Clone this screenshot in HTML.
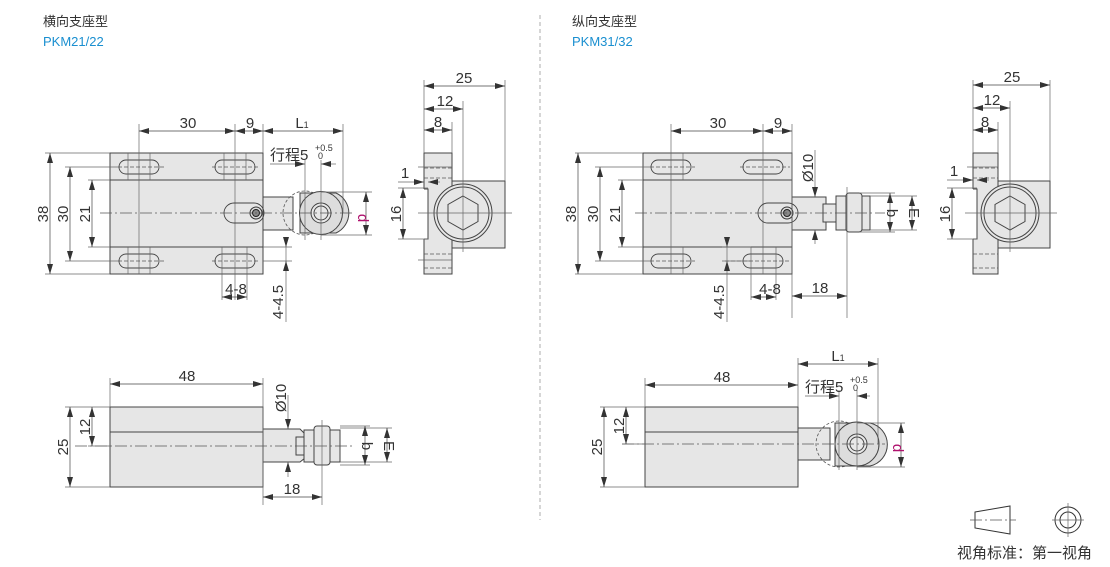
<!DOCTYPE html>
<html><head><meta charset="utf-8"><style>
html,body{margin:0;padding:0;background:#fff;}
svg{display:block;}
text{font-family:"Liberation Sans","Noto Sans CJK SC",sans-serif;fill:#333;}
.b{fill:#e6e6e6;stroke:#444;stroke-width:1;}
.l{stroke:#444;stroke-width:1;fill:none;}
.t{stroke:#666;stroke-width:0.7;fill:none;}
.c{stroke:#555;stroke-width:0.8;fill:none;stroke-dasharray:12 3 2 3;}
.h{stroke:#555;stroke-width:0.8;fill:none;stroke-dasharray:4 2;}
.d{stroke:#444;stroke-width:0.7;fill:none;marker-start:url(#a);marker-end:url(#a);}
.s{font-size:15px;}
</style></head><body>
<svg width="1110" height="567" viewBox="0 0 1110 567" xmlns="http://www.w3.org/2000/svg">
<defs>
<marker id="a" viewBox="0 0 10 6" refX="10" refY="3" markerWidth="10" markerHeight="6" orient="auto-start-reverse" markerUnits="userSpaceOnUse"><path d="M0,0 L10,3 L0,6 z" fill="#333"/></marker>
<g id="slot"><rect x="-20" y="-7" width="40" height="14" rx="7" ry="7" fill="none" stroke="#444" stroke-width="0.9"/></g>
</defs>

<text x="43" y="26" font-size="13">横向支座型</text>
<text x="43" y="46" font-size="13" style="fill:#1a8fd0">PKM21/22</text>
<text x="572" y="26" font-size="13">纵向支座型</text>
<text x="572" y="46" font-size="13" style="fill:#1a8fd0">PKM31/32</text>
<line x1="540" y1="15" x2="540" y2="520" stroke="#999" stroke-width="0.8" stroke-dasharray="4 3"/>

<!-- ===== LEFT TOP VIEW ===== -->
<rect class="b" x="110" y="153" width="153" height="121"/>
<line class="l" x1="110" y1="180" x2="263" y2="180"/>
<line class="l" x1="110" y1="247" x2="263" y2="247"/>
<use href="#slot" x="139" y="167"/><use href="#slot" x="235" y="167"/>
<use href="#slot" x="139" y="261"/><use href="#slot" x="235" y="261"/>
<line class="t" x1="139" y1="124" x2="139" y2="274"/><line class="t" x1="235" y1="124" x2="235" y2="300"/>
<line class="t" x1="128" y1="153" x2="128" y2="180"/><line class="t" x1="150" y1="153" x2="150" y2="180"/>
<line class="t" x1="128" y1="247" x2="128" y2="274"/><line class="t" x1="150" y1="247" x2="150" y2="274"/>
<line class="t" x1="224" y1="153" x2="224" y2="180"/><line class="t" x1="246" y1="153" x2="246" y2="180"/>
<line class="t" x1="222" y1="247" x2="222" y2="300"/><line class="t" x1="247" y1="247" x2="247" y2="300"/>
<line class="h" x1="118" y1="167" x2="165" y2="167"/><line class="h" x1="212" y1="167" x2="258" y2="167"/>
<line class="h" x1="118" y1="261" x2="165" y2="261"/><line class="h" x1="212" y1="261" x2="258" y2="261"/>
<rect class="b" x="263" y="197" width="30" height="33"/>
<rect x="224" y="203" width="40" height="20" rx="10" fill="none" stroke="#444" stroke-width="0.9"/>
<circle cx="256" cy="213" r="6" fill="#ddd" stroke="#333"/><circle cx="256" cy="213" r="3.5" fill="#888" stroke="#222"/>
<circle cx="305" cy="213" r="22" fill="none" stroke="#555" stroke-width="0.8" stroke-dasharray="3 2"/>
<path d="M300,193 L336,193 A22,22 0 0 1 336,233 L300,233 Z" fill="#ddd" stroke="#444"/>
<circle cx="321" cy="213" r="21.5" fill="#ddd" stroke="#444"/>
<circle cx="321" cy="213" r="10" fill="#e8e8e8" stroke="#444"/><circle cx="321" cy="213" r="7" fill="none" stroke="#444"/>
<line class="c" x1="100" y1="213" x2="352" y2="213"/>
<line class="t" x1="305" y1="160" x2="305" y2="240"/><line class="t" x1="321" y1="160" x2="321" y2="240"/>
<line class="t" x1="321" y1="192" x2="372" y2="192"/><line class="t" x1="321" y1="235" x2="372" y2="235"/>
<line class="t" x1="343" y1="124" x2="343" y2="213"/><line class="t" x1="263" y1="124" x2="263" y2="153"/>
<line class="t" x1="45" y1="153" x2="110" y2="153"/><line class="t" x1="45" y1="274" x2="110" y2="274"/>
<line class="t" x1="65" y1="167" x2="120" y2="167"/><line class="t" x1="65" y1="261" x2="120" y2="261"/>
<line class="t" x1="88" y1="180" x2="110" y2="180"/><line class="t" x1="88" y1="247" x2="110" y2="247"/>
<line class="d" x1="50" y1="153" x2="50" y2="274"/><text class="s" transform="translate(48,214) rotate(-90)" text-anchor="middle">38</text>
<line class="d" x1="70" y1="167" x2="70" y2="261"/><text class="s" transform="translate(68,214) rotate(-90)" text-anchor="middle">30</text>
<line class="d" x1="92" y1="180" x2="92" y2="247"/><text class="s" transform="translate(90,214) rotate(-90)" text-anchor="middle">21</text>
<line class="d" x1="139" y1="131" x2="235" y2="131"/><text class="s" x="188" y="128" text-anchor="middle">30</text>
<line class="d" x1="235" y1="131" x2="263" y2="131"/><text class="s" x="250" y="128" text-anchor="middle">9</text>
<line class="d" x1="263" y1="131" x2="343" y2="131"/><text class="s" x="302" y="128" text-anchor="middle">L<tspan font-size="9">1</tspan></text>
<text class="s" x="270" y="160">行程5</text><text x="315" y="151" font-size="9">+0.5</text><text x="318" y="159" font-size="9">0</text>
<line class="t" x1="270" y1="164" x2="305" y2="164" marker-end="url(#a)"/><line class="t" x1="336" y1="164" x2="321" y2="164" marker-end="url(#a)"/>
<line class="d" x1="366" y1="192" x2="366" y2="235"/><text x="362" y="214" font-size="15" transform="rotate(90 358 214)" text-anchor="middle" style="fill:#b0126e">d</text>
<line class="d" x1="222" y1="297" x2="247" y2="297"/><text class="s" x="236" y="294" text-anchor="middle">4-8</text>
<line class="t" x1="286" y1="240" x2="286" y2="322"/><line class="t" x1="286" y1="240" x2="286" y2="247" marker-end="url(#a)"/><line class="t" x1="286" y1="270" x2="286" y2="261" marker-end="url(#a)"/>
<line class="t" x1="263" y1="247" x2="292" y2="247"/><line class="t" x1="263" y1="261" x2="292" y2="261"/>
<text class="s" transform="translate(283,302) rotate(-90)" text-anchor="middle">4-4.5</text>

<!-- left side view -->
<rect class="b" x="428" y="181" width="77" height="67"/>
<rect class="b" x="424" y="153" width="28" height="121"/>
<rect x="425" y="182" width="26" height="65" fill="#e6e6e6"/>
<rect x="423.5" y="189" width="4.5" height="50" fill="#fff"/>
<path class="l" d="M424,189 L428,189 L428,239 L424,239"/>
<circle cx="463" cy="213" r="29" fill="#e6e6e6" stroke="#444"/><circle cx="463" cy="213" r="26" fill="none" stroke="#444"/>
<polygon points="463,196 478,204.5 478,221.5 463,230 448,221.5 448,204.5" fill="none" stroke="#444"/>
<line class="t" x1="418" y1="213" x2="512" y2="213"/><line class="t" x1="463" y1="101" x2="463" y2="252"/>
<line class="h" x1="424" y1="168" x2="452" y2="168"/><line class="h" x1="424" y1="178" x2="452" y2="178"/>
<line class="h" x1="424" y1="254" x2="452" y2="254"/><line class="h" x1="424" y1="268" x2="452" y2="268"/>
<line class="t" x1="418" y1="167" x2="452" y2="167"/><line class="t" x1="418" y1="260" x2="452" y2="260"/>
<line class="t" x1="424" y1="80" x2="424" y2="153"/><line class="t" x1="505" y1="80" x2="505" y2="181"/><line class="t" x1="452" y1="122" x2="452" y2="153"/>
<line class="d" x1="424" y1="86" x2="505" y2="86"/><text class="s" x="464" y="83" text-anchor="middle">25</text>
<line class="d" x1="424" y1="109" x2="463" y2="109"/><text class="s" x="445" y="106" text-anchor="middle">12</text>
<line class="d" x1="424" y1="130" x2="452" y2="130"/><text class="s" x="438" y="127" text-anchor="middle">8</text>
<line class="t" x1="398" y1="182" x2="424" y2="182" marker-end="url(#a)"/><line class="t" x1="440" y1="182" x2="428" y2="182" marker-end="url(#a)"/><text class="s" x="405" y="178" text-anchor="middle">1</text>
<line class="t" x1="398" y1="188" x2="428" y2="188"/><line class="t" x1="398" y1="239" x2="428" y2="239"/>
<line class="d" x1="403" y1="188" x2="403" y2="239"/><text class="s" transform="translate(401,214) rotate(-90)" text-anchor="middle">16</text>

<!-- left bottom view -->
<rect class="b" x="110" y="407" width="153" height="80"/>
<line class="l" x1="110" y1="432" x2="263" y2="432"/>
<path d="M263,429 L300,429 L305,434 L305,458 L300,462 L263,462 Z" class="b"/>
<rect class="b" x="296" y="437" width="20" height="18"/>
<rect class="b" x="304" y="430" width="36" height="32"/>
<rect class="b" x="314" y="426" width="16" height="39" rx="3"/>
<line class="c" x1="75" y1="446" x2="355" y2="446"/>
<line class="t" x1="322" y1="420" x2="322" y2="505"/>
<line class="t" x1="110" y1="378" x2="110" y2="407"/><line class="t" x1="263" y1="378" x2="263" y2="505"/>
<line class="d" x1="110" y1="384" x2="263" y2="384"/><text class="s" x="187" y="381" text-anchor="middle">48</text>
<line class="t" x1="288" y1="395" x2="288" y2="429" marker-end="url(#a)"/><line class="t" x1="288" y1="477" x2="288" y2="462" marker-end="url(#a)"/>
<text class="s" transform="translate(286,398) rotate(-90)" text-anchor="middle">Ø10</text>
<line class="t" x1="65" y1="407" x2="110" y2="407"/><line class="t" x1="65" y1="487" x2="110" y2="487"/><line class="t" x1="88" y1="446" x2="110" y2="446"/>
<line class="d" x1="70" y1="407" x2="70" y2="487"/><text class="s" transform="translate(68,447) rotate(-90)" text-anchor="middle">25</text>
<line class="d" x1="92" y1="407" x2="92" y2="446"/><text class="s" transform="translate(90,427) rotate(-90)" text-anchor="middle">12</text>
<line class="d" x1="263" y1="497" x2="322" y2="497"/><text class="s" x="292" y="494" text-anchor="middle">18</text>
<line class="t" x1="340" y1="426" x2="370" y2="426"/><line class="t" x1="340" y1="465" x2="370" y2="465"/>
<line class="t" x1="340" y1="428" x2="392" y2="428"/><line class="t" x1="340" y1="462" x2="392" y2="462"/>
<line class="d" x1="365" y1="426" x2="365" y2="465"/><text class="s" transform="translate(362,446) rotate(90)" text-anchor="middle">b</text>
<line class="d" x1="387" y1="428" x2="387" y2="462"/><text class="s" transform="translate(384,446) rotate(90)" text-anchor="middle">E</text>

<!-- ===== RIGHT TOP VIEW ===== -->
<rect class="b" x="643" y="153" width="149" height="121"/>
<line class="l" x1="643" y1="180" x2="792" y2="180"/>
<line class="l" x1="643" y1="247" x2="792" y2="247"/>
<use href="#slot" x="671" y="167"/><use href="#slot" x="763" y="167"/>
<use href="#slot" x="671" y="261"/><use href="#slot" x="763" y="261"/>
<line class="t" x1="671" y1="124" x2="671" y2="274"/><line class="t" x1="763" y1="124" x2="763" y2="274"/>
<line class="t" x1="683" y1="153" x2="683" y2="180"/><line class="t" x1="683" y1="247" x2="683" y2="274"/>
<line class="t" x1="751" y1="247" x2="751" y2="300"/><line class="t" x1="776" y1="247" x2="776" y2="300"/>
<line class="h" x1="650" y1="167" x2="695" y2="167"/><line class="h" x1="740" y1="167" x2="790" y2="167"/>
<line class="h" x1="650" y1="261" x2="695" y2="261"/><line class="h" x1="725" y1="261" x2="790" y2="261"/>
<rect class="b" x="792" y="197" width="34" height="33"/>
<rect x="758" y="203" width="40" height="20" rx="10" fill="none" stroke="#444" stroke-width="0.9"/>
<circle cx="787" cy="213" r="6" fill="#ddd" stroke="#333"/><circle cx="787" cy="213" r="3.5" fill="#888" stroke="#222"/>
<rect class="b" x="823" y="204" width="20" height="18"/>
<rect class="b" x="836" y="196" width="34" height="34"/>
<rect class="b" x="846" y="193" width="16" height="39" rx="3"/>
<line class="c" x1="635" y1="213" x2="885" y2="213"/>
<line class="t" x1="847" y1="187" x2="847" y2="318"/>
<line class="t" x1="792" y1="124" x2="792" y2="318"/>
<line class="t" x1="575" y1="153" x2="643" y2="153"/><line class="t" x1="575" y1="274" x2="643" y2="274"/>
<line class="t" x1="595" y1="167" x2="650" y2="167"/><line class="t" x1="595" y1="261" x2="650" y2="261"/>
<line class="t" x1="618" y1="180" x2="643" y2="180"/><line class="t" x1="618" y1="247" x2="643" y2="247"/>
<line class="d" x1="578" y1="153" x2="578" y2="274"/><text class="s" transform="translate(576,214) rotate(-90)" text-anchor="middle">38</text>
<line class="d" x1="600" y1="167" x2="600" y2="261"/><text class="s" transform="translate(598,214) rotate(-90)" text-anchor="middle">30</text>
<line class="d" x1="622" y1="180" x2="622" y2="247"/><text class="s" transform="translate(620,214) rotate(-90)" text-anchor="middle">21</text>
<line class="d" x1="671" y1="131" x2="763" y2="131"/><text class="s" x="718" y="128" text-anchor="middle">30</text>
<line class="d" x1="763" y1="131" x2="792" y2="131"/><text class="s" x="778" y="128" text-anchor="middle">9</text>
<line class="t" x1="815" y1="150" x2="815" y2="197" marker-end="url(#a)"/><line class="t" x1="815" y1="244" x2="815" y2="230" marker-end="url(#a)"/>
<text class="s" transform="translate(813,168) rotate(-90)" text-anchor="middle">Ø10</text>
<line class="t" x1="860" y1="193" x2="895" y2="193"/><line class="t" x1="860" y1="232" x2="895" y2="232"/>
<line class="t" x1="870" y1="196" x2="917" y2="196"/><line class="t" x1="870" y1="230" x2="917" y2="230"/>
<line class="d" x1="890" y1="193" x2="890" y2="232"/><text class="s" transform="translate(887,213) rotate(90)" text-anchor="middle">b</text>
<line class="d" x1="912" y1="196" x2="912" y2="230"/><text class="s" transform="translate(909,213) rotate(90)" text-anchor="middle">E</text>
<line class="d" x1="751" y1="297" x2="776" y2="297"/><text class="s" x="770" y="294" text-anchor="middle">4-8</text>
<line class="d" x1="792" y1="296" x2="847" y2="296"/><text class="s" x="820" y="293" text-anchor="middle">18</text>
<line class="t" x1="727" y1="240" x2="727" y2="322"/><line class="t" x1="727" y1="240" x2="727" y2="247" marker-end="url(#a)"/><line class="t" x1="727" y1="270" x2="727" y2="261" marker-end="url(#a)"/>
<line class="t" x1="722" y1="247" x2="751" y2="247"/><line class="t" x1="722" y1="261" x2="751" y2="261"/>
<text class="s" transform="translate(724,302) rotate(-90)" text-anchor="middle">4-4.5</text>

<!-- right side view -->
<rect class="b" x="977" y="181" width="73" height="67"/>
<rect class="b" x="973" y="153" width="25" height="121"/>
<rect x="974" y="182" width="23" height="65" fill="#e6e6e6"/>
<rect x="972.5" y="189" width="4.5" height="50" fill="#fff"/>
<path class="l" d="M973,189 L977,189 L977,239 L973,239"/>
<circle cx="1010" cy="213" r="29" fill="#e6e6e6" stroke="#444"/><circle cx="1010" cy="213" r="26" fill="none" stroke="#444"/>
<polygon points="1010,196 1025,204.5 1025,221.5 1010,230 995,221.5 995,204.5" fill="none" stroke="#444"/>
<line class="t" x1="965" y1="213" x2="1057" y2="213"/><line class="t" x1="1010" y1="101" x2="1010" y2="252"/>
<line class="h" x1="973" y1="168" x2="998" y2="168"/><line class="h" x1="973" y1="178" x2="998" y2="178"/>
<line class="h" x1="973" y1="254" x2="998" y2="254"/><line class="h" x1="973" y1="268" x2="998" y2="268"/>
<line class="t" x1="967" y1="167" x2="998" y2="167"/>
<line class="t" x1="973" y1="80" x2="973" y2="153"/><line class="t" x1="1050" y1="80" x2="1050" y2="181"/><line class="t" x1="998" y1="122" x2="998" y2="153"/>
<line class="d" x1="973" y1="85" x2="1050" y2="85"/><text class="s" x="1012" y="82" text-anchor="middle">25</text>
<line class="d" x1="973" y1="108" x2="1010" y2="108"/><text class="s" x="992" y="105" text-anchor="middle">12</text>
<line class="d" x1="973" y1="130" x2="998" y2="130"/><text class="s" x="985" y="127" text-anchor="middle">8</text>
<line class="t" x1="947" y1="180" x2="973" y2="180" marker-end="url(#a)"/><line class="t" x1="989" y1="180" x2="977" y2="180" marker-end="url(#a)"/><text class="s" x="954" y="176" text-anchor="middle">1</text>
<line class="t" x1="947" y1="188" x2="977" y2="188"/><line class="t" x1="947" y1="239" x2="977" y2="239"/>
<line class="d" x1="952" y1="188" x2="952" y2="239"/><text class="s" transform="translate(950,214) rotate(-90)" text-anchor="middle">16</text>

<!-- right bottom view -->
<rect class="b" x="645" y="407" width="153" height="80"/>
<line class="l" x1="645" y1="432" x2="798" y2="432"/>
<rect class="b" x="798" y="428" width="32" height="32"/>
<circle cx="839" cy="444" r="23" fill="none" stroke="#555" stroke-width="0.8" stroke-dasharray="3 2"/>
<path d="M835,423 L870,423 A22,22 0 0 1 870,466 L835,466 Z" fill="#ddd" stroke="#444"/>
<circle cx="857" cy="444" r="22" fill="#ddd" stroke="#444"/>
<circle cx="857" cy="444" r="10" fill="#e8e8e8" stroke="#444"/><circle cx="857" cy="444" r="7" fill="none" stroke="#444"/>
<line class="c" x1="622" y1="444" x2="885" y2="444"/>
<line class="t" x1="839" y1="390" x2="839" y2="470"/><line class="t" x1="857" y1="390" x2="857" y2="470"/>
<line class="t" x1="857" y1="423" x2="905" y2="423"/><line class="t" x1="857" y1="467" x2="905" y2="467"/>
<line class="d" x1="901" y1="423" x2="901" y2="467"/><text x="896" y="445" font-size="15" transform="rotate(90 893 445)" text-anchor="middle" style="fill:#b0126e">d</text>
<line class="t" x1="645" y1="378" x2="645" y2="407"/><line class="t" x1="798" y1="358" x2="798" y2="407"/><line class="t" x1="878" y1="358" x2="878" y2="444"/>
<line class="d" x1="645" y1="385" x2="798" y2="385"/><text class="s" x="722" y="382" text-anchor="middle">48</text>
<line class="d" x1="798" y1="364" x2="878" y2="364"/><text class="s" x="838" y="361" text-anchor="middle">L<tspan font-size="9">1</tspan></text>
<text class="s" x="805" y="392">行程5</text><text x="850" y="383" font-size="9">+0.5</text><text x="853" y="391" font-size="9">0</text>
<line class="t" x1="805" y1="396" x2="839" y2="396" marker-end="url(#a)"/><line class="t" x1="870" y1="396" x2="857" y2="396" marker-end="url(#a)"/>
<line class="t" x1="600" y1="407" x2="645" y2="407"/><line class="t" x1="600" y1="487" x2="645" y2="487"/><line class="t" x1="622" y1="444" x2="645" y2="444"/>
<line class="d" x1="604" y1="407" x2="604" y2="487"/><text class="s" transform="translate(602,447) rotate(-90)" text-anchor="middle">25</text>
<line class="d" x1="626" y1="407" x2="626" y2="444"/><text class="s" transform="translate(624,426) rotate(-90)" text-anchor="middle">12</text>

<!-- legend -->
<polygon points="975,512 1010,506 1010,534 975,528" fill="none" stroke="#333"/>
<line class="c" x1="970" y1="520" x2="1016" y2="520"/>
<circle cx="1068" cy="520" r="13" fill="none" stroke="#333"/><circle cx="1068" cy="520" r="8" fill="none" stroke="#333"/>
<line class="t" x1="1052" y1="520" x2="1084" y2="520"/><line class="t" x1="1068" y1="503" x2="1068" y2="537"/>
<text x="957" y="558" font-size="15">视角标准：第一视角</text>
</svg>
</body></html>
